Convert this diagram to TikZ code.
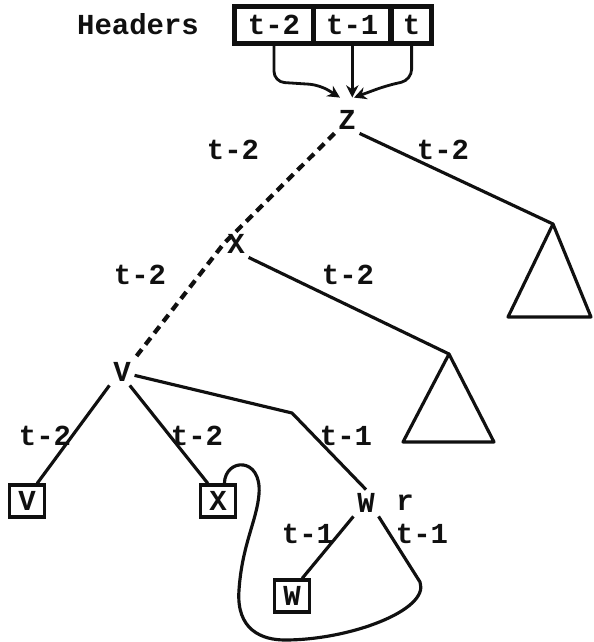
\documentclass[tikz,border=0pt]{standalone}
\usepackage{fontspec}
\setmainfont{Liberation Mono}
\usepackage{xcolor}
\usepackage{tikz}
\usetikzlibrary{arrows.meta,positioning,fit,calc}
\definecolor{pen}{HTML}{101010}
\tikzset{
  lab/.style={text=pen, font=\fontsize{16.5}{18}\selectfont\bfseries, inner sep=2pt},
  cell/.style={lab, draw=pen, line width=1.6pt, minimum height=0.7cm, inner sep=0pt},
  leaf/.style={lab, draw=pen, line width=1.8pt, minimum width=0.7cm, minimum height=0.64cm, inner sep=0pt},
  edge/.style={draw=pen, line width=1.8pt, line join=round},
  dashedge/.style={draw=pen, line width=2.4pt, dash pattern=on 0.17cm off 0.12cm},
  feed/.style={-{Stealth[length=7pt,width=7pt]}, draw=pen, line width=1.6pt, rounded corners=6pt}
}

\begin{document}
\begin{tikzpicture}[x=0.02cm, y=-0.02cm,
  frame/.style={draw=pen, line width=2.6pt, inner sep=0pt}
]
  \useasboundingbox (0,0) rectangle (594,642);

  % header row
  \node[lab] (hdr) at (138,24) {Headers};
  \node[cell, minimum width=1.52cm] (h2) at (274,25) {t-2};
  \node[cell, minimum width=1.5cm, right=0pt of h2] (h1) {t-1};
  \node[cell, minimum width=0.76cm, right=0pt of h1] (h0) {t};
  \node[frame, fit=(h2)(h0)] (hbox) {};

  % tree nodes
  \node[lab] (Z) at (347,120) {Z};
  \node[lab] (X) at (236,244) {X};
  \node[lab] (V) at (122,372) {V};
  \node[lab] (W) at (366,503) {W};
  \node[lab] (rmark) at (405,503) {r};
  \node[leaf] (lv) at (27,501) {V};
  \node[leaf] (lx) at (218,501) {X};
  \node[leaf] (lw) at (292,596) {W};
  \coordinate (t1) at (553,224);
  \coordinate (t2) at (449,354);
  \coordinate (bend) at (292,413);
  \coordinate (zin) at ($(Z.north)+(0,-9)$);

  % edge labels
  \node[lab] (lzx) at (233,150) {t-2};
  \node[lab] (lzt) at (443,150) {t-2};
  \node[lab] (lxv) at (140,275) {t-2};
  \node[lab] (lxt) at (348,275) {t-2};
  \node[lab] (lvv) at (45,436) {t-2};
  \node[lab] (lvx) at (197,436) {t-2};
  \node[lab] (lvw) at (346,436) {t-1};
  \node[lab] (lwl) at (308,534) {t-1};
  \node[lab] (lwr) at (422,534) {t-1};

  % headers into Z
  \draw[feed] (h2.south) -- ++(0,38) -- ++(46,3) -- ([xshift=-4pt]zin);
  \draw[feed] (h1.south) -- (h1.south |- zin);
  \draw[feed] (h0.south) -- ++(0,36) -- ++(-26,6) -- ([xshift=4pt]zin);

  % tree
  \draw[dashedge] (Z.south west) -- (X.west) -- (V.north east);
  \draw[edge] (Z.south east) -- (t1);
  \draw[edge] (X.south east) -- (t2);
  \draw[edge] (t1) -- ++(-45,93) -- ++(83,0) -- cycle;
  \draw[edge] (t2) -- ++(-46,88) -- ++(91,0) -- cycle;
  \draw[edge] (V.south west) -- (lv.60);
  \draw[edge] (V.-60) -- (lx.120);
  \draw[edge] (V.-15) -- (bend) -- (W.north);
  \draw[edge] (W.south west) -- (lw.60);
  \draw[edge] (lx.70) .. controls (225,458) and (262,456) .. (259,494)
    .. controls (257,520) and (242,545) .. (239,590)
    .. controls (236,630) and (262,640) .. (285,640)
    .. controls (350,640) and (430,610) .. (420,582)
    -- (W.south east);
\end{tikzpicture}
\end{document}
